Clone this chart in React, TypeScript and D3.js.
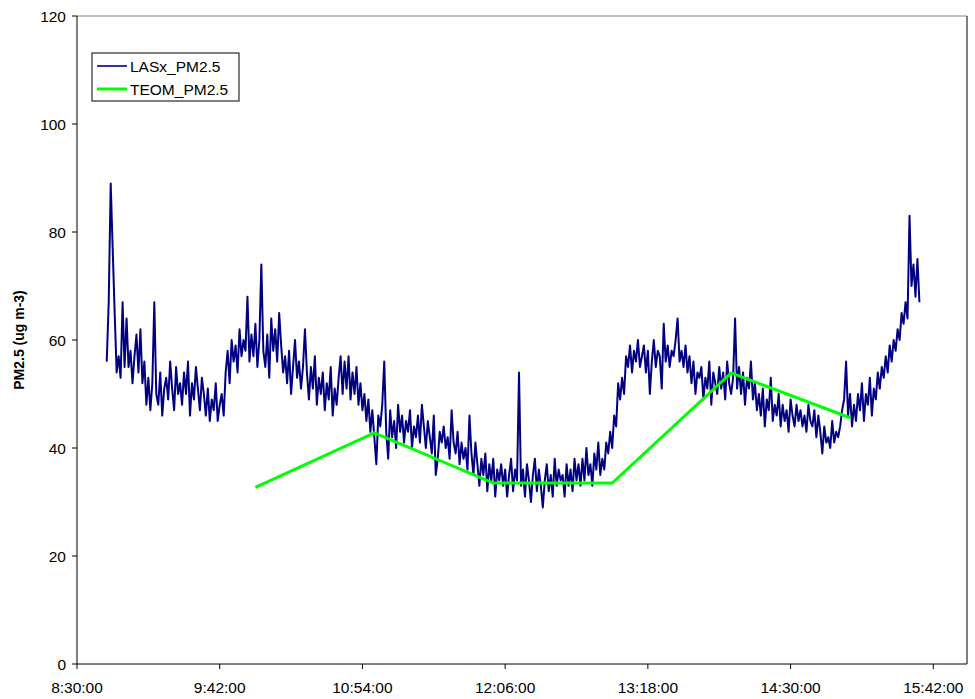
import * as d3 from "d3";

// LASx readings, one per minute starting at 8:45:00
const lasxStart = "8:45:00";
const lasxValues = [
  56, 67, 89, 77, 65, 54, 57, 53, 67, 55,
  64, 55, 58, 52, 57, 61, 54, 62, 52, 56,
  48, 53, 47, 52, 67, 50, 48, 54, 46, 51,
  53, 49, 56, 51, 47, 55, 50, 52, 48, 54,
  50, 56, 46, 52, 49, 55, 51, 47, 53, 50,
  46, 51, 45, 49, 47, 52, 45, 48, 50, 46,
  54, 58, 52, 60, 56, 59, 54, 62, 57, 60,
  58, 68, 56, 61, 57, 63, 55, 60, 74, 58,
  55, 61, 53, 64, 58, 62, 56, 65, 59, 54,
  57, 52, 58, 50, 55, 60, 53, 56, 51, 55,
  62, 54, 49, 55, 51, 57, 48, 53, 50, 54,
  47, 52, 49, 55, 46, 51, 48, 53, 57, 50,
  56, 51, 57, 49, 54, 50, 55, 48, 52, 47,
  50, 45, 49, 43, 47, 42, 37, 46, 44, 48,
  56, 43, 38, 47, 42, 45, 40, 48, 43, 46,
  41, 45, 43, 47, 40, 44, 42, 46, 41, 48,
  44, 40, 45, 42, 39, 46, 35, 38, 43, 41,
  44, 40, 42, 38, 47, 41, 39, 43, 37, 41,
  38, 40, 36, 46, 39, 35, 41, 37, 33, 38,
  35, 39, 32, 37, 34, 38, 31, 36, 34, 37,
  33, 36, 31, 35, 38, 32, 36, 34, 54, 33,
  36, 31, 37, 34, 30, 35, 38, 32, 36, 33,
  29, 34, 37, 32, 35, 31, 38, 33, 36, 34,
  35, 31, 37, 33, 36, 32, 38, 34, 37, 33,
  38, 34, 40, 35, 37, 33, 39, 36, 41, 35,
  38, 36, 41, 39, 43, 40, 46, 44, 52, 49,
  53, 50, 57, 55, 59, 54, 58, 56, 60, 55,
  57, 59, 54, 58, 50, 56, 60, 55, 58, 57,
  51, 63, 56, 59, 55, 58, 57, 60, 64, 56,
  58, 55, 59, 54, 57, 52, 56, 50, 54, 53,
  55, 49, 53, 51, 56, 48, 54, 52, 50, 55,
  51, 54, 49, 56, 52, 50, 53, 64, 51, 55,
  50, 54, 48, 53, 51, 56, 49, 52, 47, 50,
  46, 51, 44, 49, 47, 53, 45, 48, 46, 50,
  44, 48, 45, 47, 43, 49, 46, 44, 48, 45,
  47, 44, 46, 43, 48, 45, 44, 47, 42, 46,
  43, 39, 44, 41, 42, 40, 45, 41, 43, 42,
  44, 47, 49, 56, 46, 50, 44, 48, 45, 50,
  47, 52, 45, 50, 48, 53, 46, 51, 49, 54,
  51, 55, 53, 57, 54, 59, 56, 60, 58, 62,
  60, 65, 63, 67, 64, 83, 70, 74, 68, 75,
  67,
];

// hourly TEOM averages
const teomTimes = ["10:00:00", "11:00:00", "12:00:00", "13:00:00", "14:00:00", "15:00:00"];
const teomValues = [32.7, 42.8, 33.5, 33.5, 53.9, 45.6];

const xTickLabels = ["8:30:00", "9:42:00", "10:54:00", "12:06:00", "13:18:00", "14:30:00", "15:42:00"];
const yTicks = [0, 20, 40, 60, 80, 100, 120];

const toMin = (s: string) => {
  const [h, m] = s.split(":").map(Number);
  return h * 60 + m;
};

export default function App() {
  const width = 975;
  const height = 699;
  const left = 77;
  const right = 967;
  const top = 16;
  const bottom = 664;

  const x = d3.scaleLinear().domain([toMin("8:30:00"), toMin("15:59:00")]).range([left, right]);
  const y = d3.scaleLinear().domain([0, 120]).range([bottom, top]);

  const start = toMin(lasxStart);
  const lasx = lasxValues.map((v, i) => ({ t: start + i, v }));
  const teom = teomTimes.map((t, i) => ({ t: toMin(t), v: teomValues[i] }));

  const line = d3
    .line<{ t: number; v: number }>()
    .x((d) => x(d.t))
    .y((d) => y(d.v));

  const font = "'Liberation Sans', Arial, sans-serif";

  return (
    <svg
      width={width}
      height={height}
      style={{ position: "absolute", left: 0, top: 0, background: "#fff" }}
      fontFamily={font}
    >
      {/* plot frame */}
      <line x1={left} x2={right} y1={top} y2={top} stroke="#808080" />
      <line x1={right} x2={right} y1={top} y2={bottom} stroke="#000" />

      <path d={line(lasx) || ""} fill="none" stroke="#000080" strokeWidth={2} strokeLinejoin="round" />
      <path d={line(teom) || ""} fill="none" stroke="#00ff00" strokeWidth={3} />

      {/* y axis */}
      <line x1={left} x2={left} y1={top} y2={bottom} stroke="#000" />
      {yTicks.map((t) => (
        <g key={t}>
          <line x1={left - 5} x2={left} y1={y(t)} y2={y(t)} stroke="#000" />
          <text x={left - 11} y={y(t)} dy="0.36em" textAnchor="end" fontSize={15.5}>
            {t}
          </text>
        </g>
      ))}

      {/* x axis */}
      <line x1={left} x2={right} y1={bottom} y2={bottom} stroke="#000" />
      {xTickLabels.map((s) => (
        <g key={s}>
          <line x1={x(toMin(s))} x2={x(toMin(s))} y1={bottom} y2={bottom + 5} stroke="#000" />
          <text x={x(toMin(s))} y={693} textAnchor="middle" fontSize={15.5}>
            {s}
          </text>
        </g>
      ))}

      <text
        transform={`translate(24,${(top + bottom) / 2}) rotate(-90)`}
        textAnchor="middle"
        fontSize={14}
        fontWeight="bold"
      >
        PM2.5 (ug m-3)
      </text>

      {/* legend */}
      <rect x={92} y={53} width={147} height={48} fill="#fff" stroke="#000" />
      <line x1={97} x2={127} y1={66} y2={66} stroke="#000080" strokeWidth={1.6} />
      <text x={130} y={72} fontSize={15.5}>
        LASx_PM2.5
      </text>
      <line x1={97} x2={127} y1={89} y2={89} stroke="#00ff00" strokeWidth={3} />
      <text x={130} y={95} fontSize={15.5}>
        TEOM_PM2.5
      </text>
    </svg>
  );
}
